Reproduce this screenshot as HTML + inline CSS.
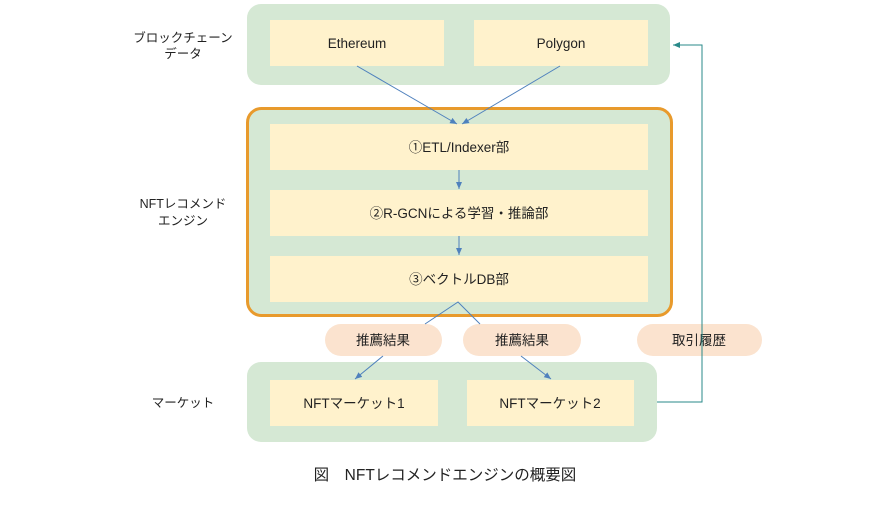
<!DOCTYPE html>
<html><head><meta charset="utf-8"><style>
body{margin:0;background:#fff;width:890px;height:500px;overflow:hidden;font-family:"Liberation Sans","Noto Sans CJK JP",sans-serif;}
</style></head><body>
<svg width="890" height="500" xmlns="http://www.w3.org/2000/svg" font-family="Liberation Sans, Noto Sans CJK JP, sans-serif">
<defs>
<marker id="a" markerWidth="8" markerHeight="8" refX="7" refY="4" orient="auto" markerUnits="userSpaceOnUse"><path d="M0,1 L7,4 L0,7z" fill="#4f81bd"/></marker>
<marker id="t" markerWidth="8" markerHeight="8" refX="7" refY="4" orient="auto" markerUnits="userSpaceOnUse"><path d="M0,1 L7,4 L0,7z" fill="#2a8a8a"/></marker>
</defs>
<rect x="247" y="4" width="423" height="81" rx="14" fill="#d5e8d4"/>
<rect x="270" y="20" width="174" height="46" fill="#fff2cc"/>
<rect x="474" y="20" width="174" height="46" fill="#fff2cc"/>
<text x="357" y="48" font-size="13.5" text-anchor="middle" fill="#222">Ethereum</text>
<text x="561" y="48" font-size="13.5" text-anchor="middle" fill="#222">Polygon</text>
<rect x="247.5" y="108.5" width="424" height="207" rx="14" fill="#d5e8d4" stroke="#e89a2c" stroke-width="3"/>
<rect x="270" y="124" width="378" height="46" fill="#fff2cc"/>
<rect x="270" y="190" width="378" height="46" fill="#fff2cc"/>
<rect x="270" y="256" width="378" height="46" fill="#fff2cc"/>
<text x="459" y="152" font-size="13.5" text-anchor="middle" fill="#222">①ETL/Indexer部</text>
<text x="459" y="218" font-size="13.5" text-anchor="middle" fill="#222">②R-GCNによる学習・推論部</text>
<text x="459" y="284" font-size="13.5" text-anchor="middle" fill="#222">③ベクトルDB部</text>
<rect x="325" y="324" width="117" height="32" rx="16" fill="#fbe3cf"/>
<rect x="463" y="324" width="118" height="32" rx="16" fill="#fbe3cf"/>
<rect x="637" y="324" width="125" height="32" rx="16" fill="#fbe3cf"/>
<text x="383" y="345" font-size="13.5" text-anchor="middle" fill="#222">推薦結果</text>
<text x="522" y="345" font-size="13.5" text-anchor="middle" fill="#222">推薦結果</text>
<text x="699" y="345" font-size="13.5" text-anchor="middle" fill="#222">取引履歴</text>
<rect x="247" y="362" width="410" height="80" rx="14" fill="#d5e8d4"/>
<rect x="270" y="380" width="168" height="46" fill="#fff2cc"/>
<rect x="467" y="380" width="167" height="46" fill="#fff2cc"/>
<text x="354" y="408" font-size="13.5" text-anchor="middle" fill="#222">NFTマーケット1</text>
<text x="550" y="408" font-size="13.5" text-anchor="middle" fill="#222">NFTマーケット2</text>
<g stroke="#4f81bd" stroke-width="1" fill="none">
<line x1="357" y1="66" x2="457" y2="124" marker-end="url(#a)"/>
<line x1="560" y1="66" x2="462" y2="124" marker-end="url(#a)"/>
<line x1="459" y1="170" x2="459" y2="189" marker-end="url(#a)"/>
<line x1="459" y1="236" x2="459" y2="255" marker-end="url(#a)"/>
<polyline points="425,324 458,302 480,324"/>
<line x1="383" y1="356" x2="355" y2="379" marker-end="url(#a)"/>
<line x1="521" y1="356" x2="551" y2="379" marker-end="url(#a)"/>
</g>
<polyline points="657,402 702,402 702,45 673,45" stroke="#2a8a8a" stroke-width="1" fill="none" marker-end="url(#t)"/>
<g font-size="12.5" text-anchor="middle" fill="#222">
<text x="183" y="42">ブロックチェーン</text><text x="183" y="58">データ</text>
<text x="183" y="208">NFTレコメンド</text><text x="183" y="225">エンジン</text>
<text x="183" y="407">マーケット</text>
</g>
<text x="445" y="480" font-size="15.5" text-anchor="middle" fill="#222">図　NFTレコメンドエンジンの概要図</text>
</svg>
</body></html>
